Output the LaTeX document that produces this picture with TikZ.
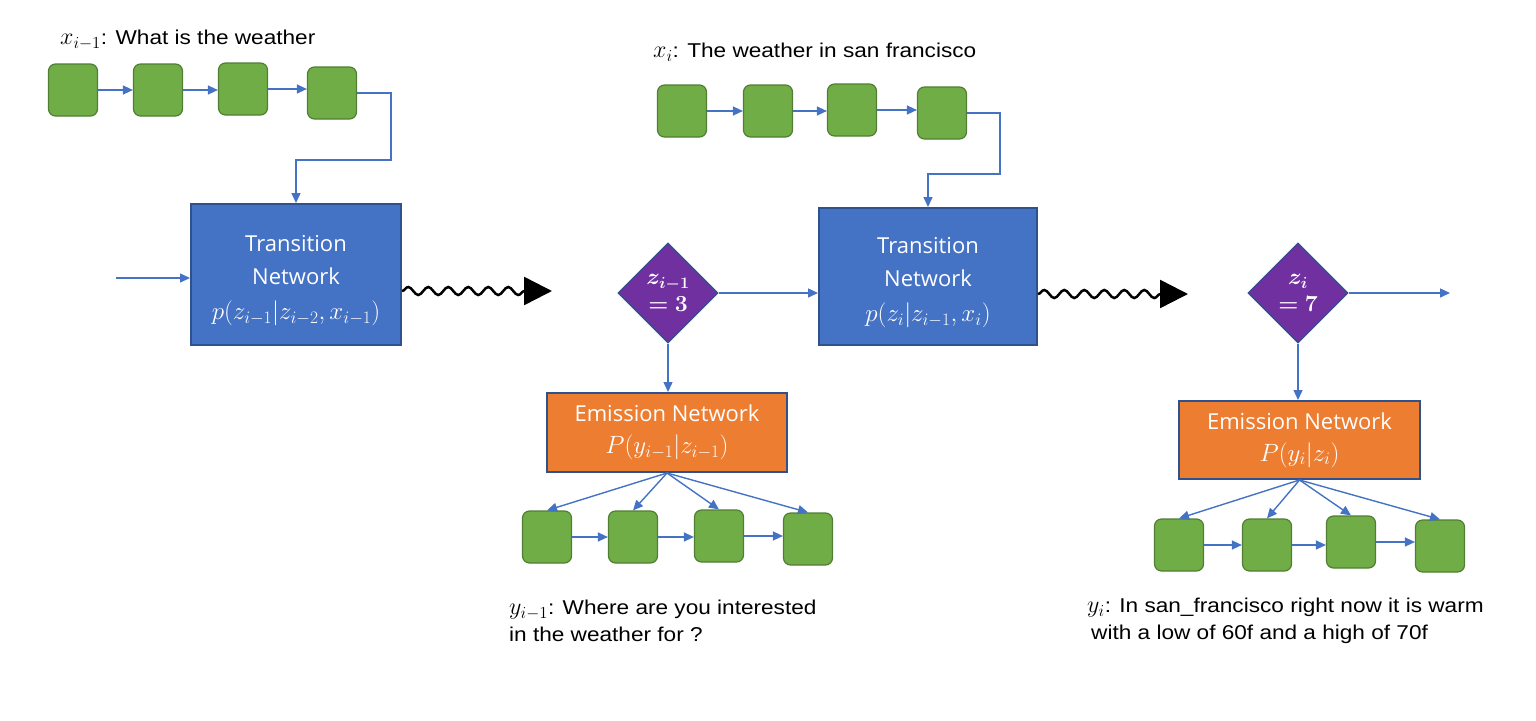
\RequirePackage{fix-cm}
\documentclass[tikz,border=0pt]{standalone}
\usepackage{amsmath,bm}
\usepackage[no-math]{fontspec}
\setmainfont[FakeStretch=1.13]{Liberation Sans}
\newfontfamily\boxfont{Open Sans}
\usepackage{tikz}
\usetikzlibrary{positioning,arrows.meta,shapes.geometric,decorations.pathmorphing}
\usepackage{xcolor}
\definecolor{tokgreen}{HTML}{70AD47}
\definecolor{tokline}{HTML}{507E32}
\definecolor{transblue}{HTML}{4472C4}
\definecolor{boxline}{HTML}{2F528F}
\definecolor{emitorange}{HTML}{ED7D31}
\definecolor{statepurple}{HTML}{7030A0}
\definecolor{linkblue}{HTML}{4472C4}
\newcommand{\utterfont}{\fontsize{20}{27}\selectfont}
\newcommand{\uttervar}[1]{{\fontsize{24}{27}\selectfont$#1$}}

\begin{document}
\begin{tikzpicture}[x=1pt,y=-1pt,
  utter/.style={anchor=west,align=left,inner sep=2pt,font=\utterfont},
  tok/.style={draw=tokline,fill=tokgreen,line width=1.2pt,rounded corners=7pt,minimum width=49pt,minimum height=52pt},
  transbox/.style={draw=boxline,fill=transblue,line width=2pt,text=white,align=center,inner sep=0pt,font=\boxfont\fontsize{22}{33}\selectfont},
  emitbox/.style={draw=boxline,fill=emitorange,line width=2pt,text=white,align=center,inner sep=0pt,font=\boxfont\fontsize{22}{35}\selectfont},
  state/.style={diamond,draw=boxline,fill=statepurple,line width=1.2pt,text=white,align=center,inner sep=0pt,minimum width=100pt,minimum height=100pt,font=\fontsize{23}{27}\selectfont},
  link/.style={draw=linkblue,line width=1.4pt,-{Triangle[length=10pt,width=9pt]}},
  wavy/.style={draw=black,line width=2.5pt,decorate,decoration={snake,segment length=20pt,amplitude=4pt,post length=27pt},-{Triangle[length=28pt,width=28pt]}}]
\useasboundingbox (0,0) rectangle (1536,720);

% input utterance x_{i-1}
\node[utter] (xprev) at (58,40) {\uttervar{x_{i-1}}: What is the weather};
\node[tok] (xa1) at (73,90) {};
\node[tok] (xa2) at (158,90) {};
\node[tok] (xa3) at (243,89) {};
\node[tok] (xa4) at (332,93) {};

% input utterance x_i
\node[utter] (xcur) at (651,52) {\uttervar{x_i}: The weather in san francisco};
\node[tok] (xb1) at (682,111) {};
\node[tok] (xb2) at (768,111) {};
\node[tok] (xb3) at (852,110) {};
\node[tok] (xb4) at (942,113) {};

% transition networks
\node[transbox,minimum width=210pt,minimum height=141pt] (trA) at (296,274.5)
  {\rule{0pt}{28pt}Transition\\Network\\[2pt]{\fontsize{25}{30}\selectfont$p(z_{i-1}|z_{i-2},x_{i-1})$}};
\node[transbox,minimum width=218pt,minimum height=137pt] (trB) at (928,276.5)
  {\rule{0pt}{28pt}Transition\\Network\\[2pt]{\fontsize{25}{30}\selectfont$p(z_i|z_{i-1},x_i)$}};

% latent states
\node[state] (zA) at (668,293) {$\bm{z_{i-1}}$\\$\bm{=3}$};
\node[state] (zB) at (1298,293) {$\bm{z_{i}}$\\$\bm{=7}$};

% emission networks
\node[emitbox,minimum width=240pt,minimum height=79pt] (emA) at (667,432.5)
  {Emission Network\\[-3pt]{\fontsize{25}{30}\selectfont$P(y_{i-1}|z_{i-1})$}};
\node[emitbox,minimum width=241pt,minimum height=78pt] (emB) at (1299.5,440)
  {Emission Network\\[-3pt]{\fontsize{25}{30}\selectfont$P(y_i|z_i)$}};

% output utterances
\node[tok] (ya1) at (547,537) {};
\node[tok] (ya2) at (633,537) {};
\node[tok] (ya3) at (719,536) {};
\node[tok] (ya4) at (808,539) {};
\node[tok] (yb1) at (1179,545) {};
\node[tok] (yb2) at (1267,545) {};
\node[tok] (yb3) at (1351,542) {};
\node[tok] (yb4) at (1440,546) {};
\node[utter] (yprev) at (507,621) {\uttervar{y_{i-1}}: Where are you interested\\in the weather for ?};
\node[utter] (ycur) at (1085,621) {\uttervar{y_i}: In san\_francisco right now it is warm\\\hspace*{4pt}with a low of 60f and a high of 70f};

% connectors
\foreach \k/\n in {1/2,2/3,3/4} {
  \draw[link] (xa\k.east) -- (xa\k.east -| xa\n.west);
  \draw[link] (xb\k.east) -- (xb\k.east -| xb\n.west);
  \draw[link] (ya\k.east) -- (ya\k.east -| ya\n.west);
  \draw[link] (yb\k.east) -- (yb\k.east -| yb\n.west);
}
\coordinate (bendA) at (391,160);
\coordinate (bendB) at (1000,174);
\draw[link] (xa4.east) -| (bendA) -| (trA.north);
\draw[link] (xb4.east) -| (bendB) -| (trB.north);

\coordinate (inA) at (116,278);
\draw[link] (inA) -- (inA -| trA.west);
\coordinate (wA) at (552,291);
\draw[wavy] (trA.east |- wA) -- (wA);
\draw[link] (zA.east) -- (zA.east -| trB.west);
\coordinate (wB) at (1188,294);
\draw[wavy] (trB.east |- wB) -- (wB);
\coordinate (outB) at (1450,293);
\draw[link] (zB.east) -- (outB);

\draw[link] (zA.south) -- (zA.south |- emA.north);
\draw[link] (zB.south) -- (zB.south |- emB.north);
\foreach \k in {1,...,4} {
  \draw[link] (emA.south) -- (ya\k.north);
  \draw[link] (emB.south) -- (yb\k.north);
}
\end{tikzpicture}
\end{document}
